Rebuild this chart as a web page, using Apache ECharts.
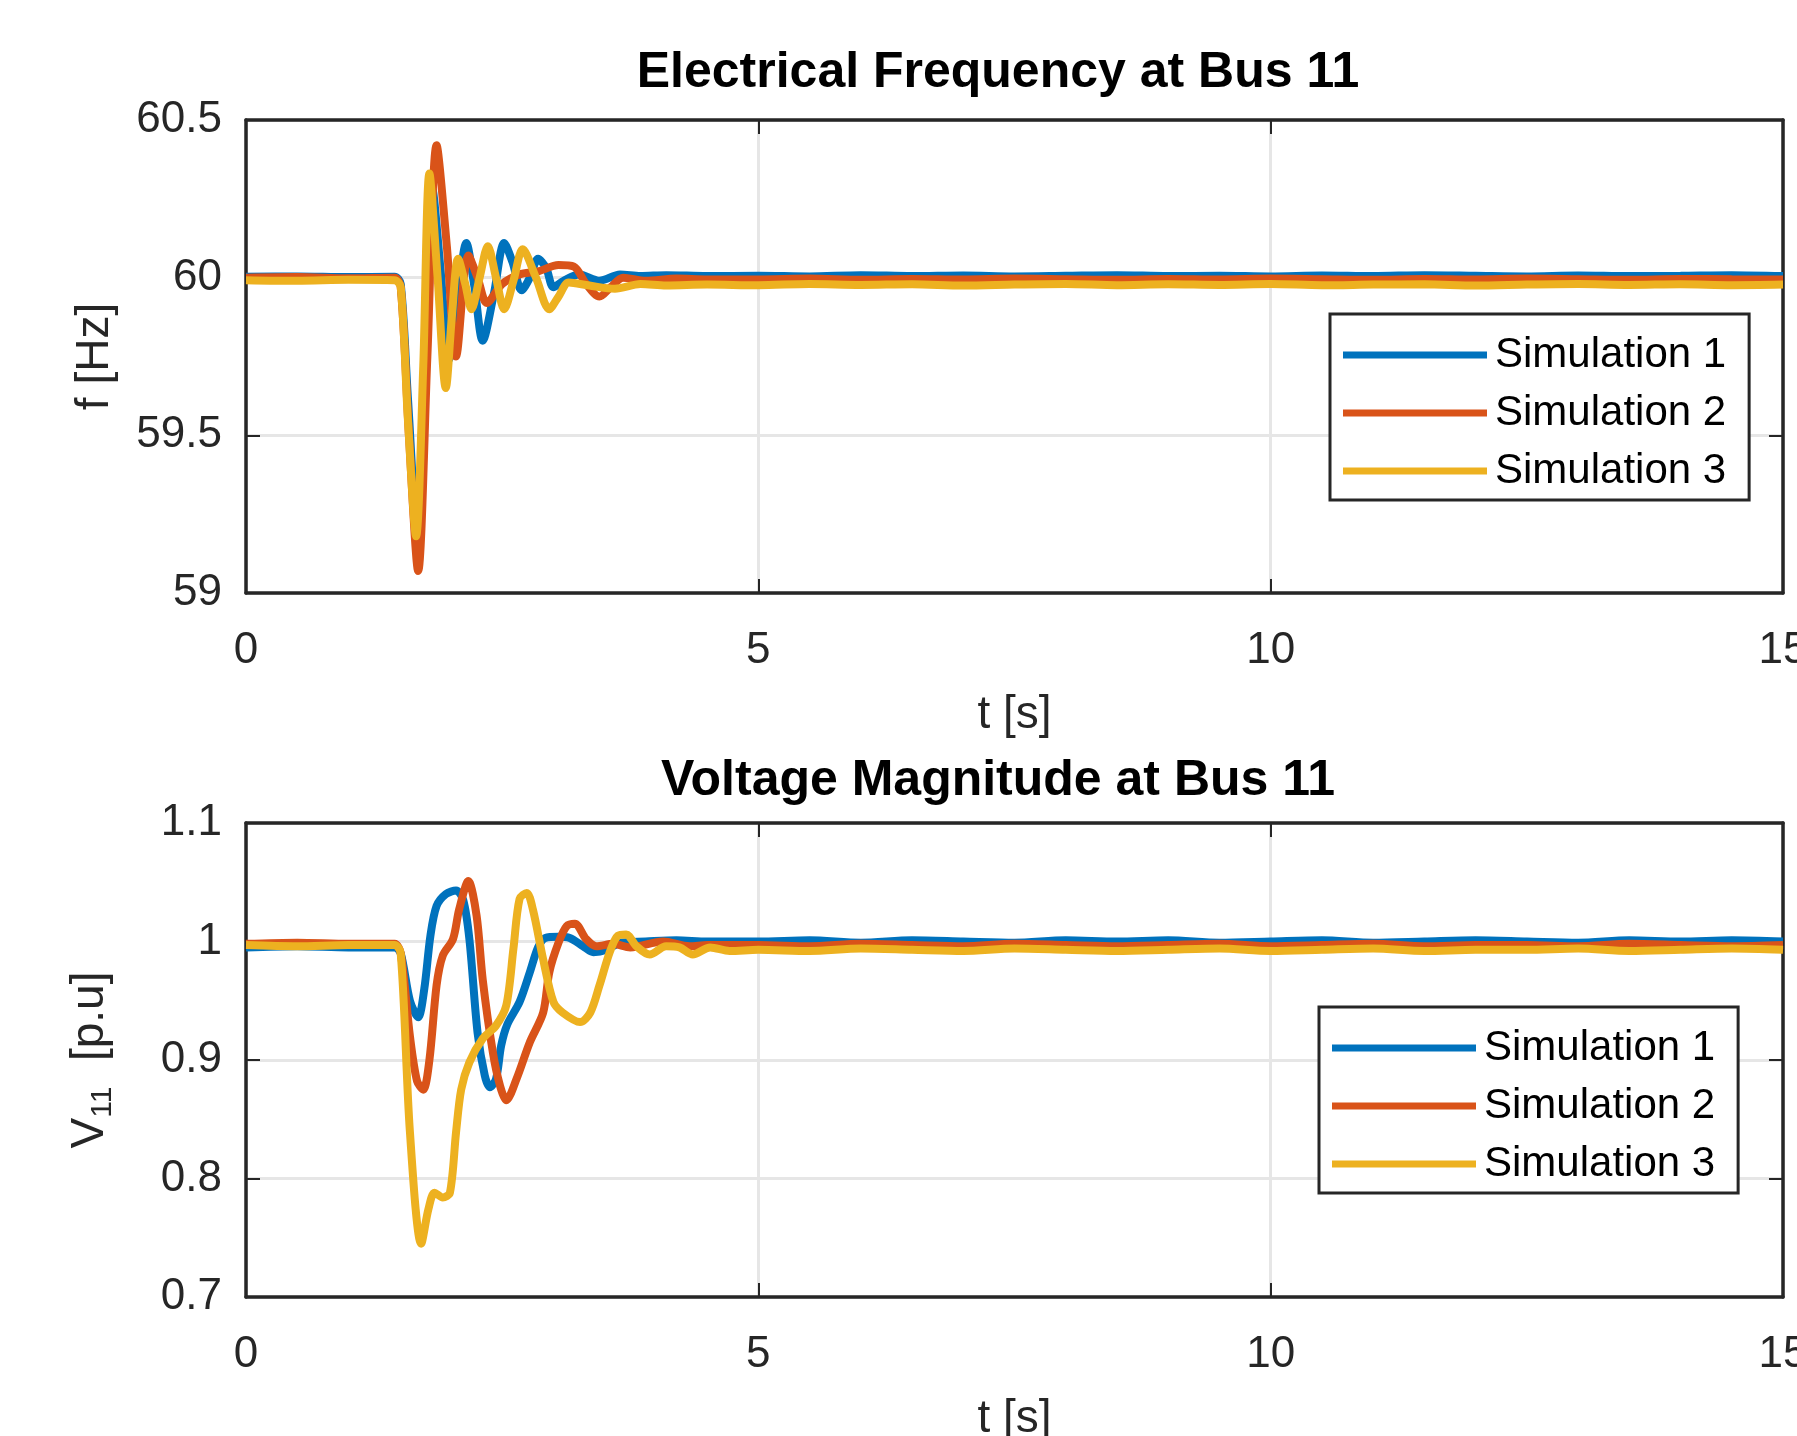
<!DOCTYPE html>
<html>
<head>
<meta charset="utf-8">
<script src="https://cdn.jsdelivr.net/npm/echarts@6/dist/echarts.min.js"></script>
<style>
  html, body { margin: 0; padding: 0; background: #fff; overflow: hidden; }
  #chart { width: 1797px; height: 1436px; }
</style>
</head>
<body>
<div id="chart"></div>
<script>
  // frequency, transient part (time [s], f [Hz])
  var timeF1 = [0, 0.5, 1.0, 1.45, 1.51, 1.58, 1.67, 1.75, 1.82, 1.9, 1.98, 2.07, 2.15, 2.23, 2.31, 2.42, 2.52, 2.6, 2.69, 2.77, 2.85, 2.93, 3.0, 3.1, 3.25, 3.45, 3.65, 3.85, 4.1, 4.5];
  var freqSim1 = [60.003, 60.004, 60.002, 60.003, 59.98, 59.62, 59.2, 59.72, 60.28, 60.02, 59.74, 59.95, 60.11, 59.97, 59.8, 59.95, 60.11, 60.05, 59.96, 60.0, 60.06, 60.03, 59.97, 59.99, 60.01, 59.99, 60.01, 60.005, 60.008, 60.005];
  var timeF2 = [0, 0.5, 1.0, 1.45, 1.51, 1.59, 1.68, 1.77, 1.86, 1.96, 2.05, 2.17, 2.26, 2.35, 2.5, 2.67, 2.85, 3.05, 3.2, 3.32, 3.45, 3.56, 3.68, 3.9, 4.2, 4.5];
  var freqSim2 = [60.0, 60.002, 59.998, 60.0, 59.97, 59.5, 59.07, 59.75, 60.42, 60.1, 59.75, 60.07, 60.0, 59.92, 59.98, 60.01, 60.02, 60.04, 60.035, 59.98, 59.94, 59.97, 60.0, 59.99, 59.997, 59.994];
  var timeF3 = [0, 0.5, 1.0, 1.45, 1.51, 1.58, 1.66, 1.73, 1.79, 1.87, 1.95, 2.01, 2.07, 2.14, 2.2, 2.28, 2.36, 2.44, 2.52, 2.61, 2.7, 2.83, 2.96, 3.05, 3.15, 3.35, 3.6, 3.85, 4.1, 4.5];
  var freqSim3 = [59.992, 59.99, 59.993, 59.992, 59.97, 59.55, 59.18, 59.72, 60.33, 60.0, 59.65, 59.88, 60.06, 59.98, 59.9, 60.0, 60.1, 60.0, 59.9, 59.99, 60.09, 60.0, 59.9, 59.94, 59.985, 59.975, 59.965, 59.98, 59.975, 59.978];

  // voltage, transient part (time [s], V [p.u])
  var timeV1 = [0, 0.5, 1.0, 1.45, 1.51, 1.6, 1.68, 1.74, 1.8, 1.86, 1.95, 2.05, 2.12, 2.18, 2.26, 2.33, 2.38, 2.44, 2.49, 2.55, 2.67, 2.77, 2.85, 2.92, 3.05, 3.16, 3.29, 3.39, 3.52, 3.65, 3.9, 4.2, 4.5];
  var voltSim1 = [0.995, 0.996, 0.995, 0.995, 0.99, 0.95, 0.936, 0.96, 1.005, 1.03, 1.04, 1.043, 1.035, 1.002, 0.923, 0.887, 0.877, 0.884, 0.912, 0.93, 0.949, 0.974, 0.995, 1.003, 1.004, 1.003, 0.996, 0.991, 0.993, 0.999, 1.0, 1.001, 1.0];
  var timeV2 = [0, 0.5, 1.0, 1.45, 1.51, 1.6, 1.67, 1.73, 1.79, 1.86, 1.92, 2.02, 2.08, 2.17, 2.25, 2.31, 2.41, 2.48, 2.54, 2.64, 2.77, 2.9, 2.96, 3.05, 3.13, 3.21, 3.32, 3.42, 3.58, 3.75, 4.07, 4.33, 4.5];
  var voltSim2 = [0.998, 0.999, 0.998, 0.998, 0.99, 0.92, 0.882, 0.875, 0.9, 0.963, 0.988, 1.002, 1.027, 1.051, 1.022, 0.968, 0.906, 0.878, 0.866, 0.884, 0.915, 0.94, 0.974, 0.999, 1.013, 1.015, 1.002, 0.996, 0.998, 0.995, 1.0, 0.996, 0.997];
  var timeV3 = [0, 0.5, 1.0, 1.45, 1.51, 1.6, 1.71, 1.78, 1.84, 1.92, 1.99, 2.05, 2.1, 2.18, 2.31, 2.44, 2.54, 2.61, 2.67, 2.74, 2.8, 2.9, 3.0, 3.09, 3.26, 3.36, 3.45, 3.55, 3.63, 3.71, 3.81, 3.94, 4.1, 4.23, 4.36, 4.53, 4.72];
  var voltSim3 = [0.997, 0.996, 0.997, 0.997, 0.99, 0.839, 0.745, 0.774, 0.788, 0.784, 0.788, 0.839, 0.875, 0.898, 0.918, 0.929, 0.946, 0.994, 1.036, 1.041, 1.027, 0.985, 0.949, 0.94, 0.932, 0.94, 0.963, 0.991, 1.005, 1.006, 0.996, 0.989, 0.996, 0.995, 0.989, 0.995, 0.992];

  // steady state after the fault (shared time base)
  var tSteady = [5, 5.5, 6, 6.5, 7, 7.5, 8, 8.5, 9, 9.5, 10, 10.5, 11, 11.5, 12, 12.5, 13, 13.5, 14, 14.5, 15];
  var freqSteady1 = [60.006, 60.004, 60.008, 60.005, 60.007, 60.004, 60.006, 60.008, 60.005, 60.006, 60.004, 60.007, 60.005, 60.008, 60.006, 60.004, 60.007, 60.005, 60.006, 60.008, 60.005];
  var freqSteady2 = [59.994, 59.997, 59.993, 59.996, 59.994, 59.997, 59.995, 59.993, 59.996, 59.994, 59.997, 59.995, 59.993, 59.996, 59.994, 59.997, 59.995, 59.993, 59.996, 59.995, 59.994];
  var freqSteady3 = [59.976, 59.98, 59.977, 59.979, 59.975, 59.978, 59.98, 59.976, 59.979, 59.977, 59.98, 59.976, 59.978, 59.979, 59.975, 59.978, 59.98, 59.977, 59.979, 59.976, 59.978];
  var voltSteady1 = [1.0, 1.001, 0.999, 1.001, 1.0, 0.999, 1.001, 1.0, 1.001, 0.999, 1.0, 1.001, 0.999, 1.0, 1.001, 1.0, 0.999, 1.001, 1.0, 1.001, 1.0];
  var voltSteady2 = [0.997, 0.996, 0.998, 0.997, 0.996, 0.998, 0.997, 0.996, 0.997, 0.998, 0.996, 0.997, 0.998, 0.996, 0.997, 0.997, 0.996, 0.998, 0.997, 0.996, 0.997];
  var voltSteady3 = [0.993, 0.992, 0.994, 0.993, 0.992, 0.994, 0.993, 0.992, 0.993, 0.994, 0.992, 0.993, 0.994, 0.992, 0.993, 0.993, 0.994, 0.992, 0.993, 0.994, 0.993];

  var simNames = ['Simulation 1', 'Simulation 2', 'Simulation 3'];
  var colors = ['#0072BD', '#D95319', '#EDB120'];
  var xTicks = [0, 5, 10, 15];
  var freqTicks = [59, 59.5, 60, 60.5];
  var voltTicks = [0.7, 0.8, 0.9, 1, 1.1];

  var FONT = '"Liberation Sans", Arial, sans-serif';
  var INK = '#262626';

  function pairs(t, v, ts, vs) {
    var tt = t.concat(ts), vv = v.concat(vs);
    return tt.map(function (x, i) { return [x, vv[i]]; });
  }

  function fmt(v) { return String(+v.toFixed(2)); }

  function xAx(grid, top) {
    return {
      type: 'value', gridIndex: grid, position: top ? 'top' : 'bottom',
      min: xTicks[0], max: xTicks[xTicks.length - 1], interval: xTicks[1] - xTicks[0],
      axisLine: { show: true, onZero: false, lineStyle: { color: INK, width: 3.5 } },
      axisTick: { show: true, inside: true, length: 14, lineStyle: { color: INK, width: 2 } },
      axisLabel: { show: !top, margin: 36, fontSize: 44, color: INK, fontFamily: FONT,
        showMinLabel: true, showMaxLabel: true, formatter: fmt },
      splitLine: { show: !top, lineStyle: { color: '#e6e6e6', width: 3 } },
      name: top ? '' : 't [s]', nameLocation: 'middle', nameGap: 99,
      nameTextStyle: { fontSize: 46, color: INK, fontFamily: FONT }
    };
  }

  function yAx(grid, ticks, right, name, rich) {
    return {
      type: 'value', gridIndex: grid, position: right ? 'right' : 'left',
      min: ticks[0], max: ticks[ticks.length - 1], interval: ticks[1] - ticks[0],
      axisLine: { show: true, onZero: false, lineStyle: { color: INK, width: 3.5 } },
      axisTick: { show: true, inside: true, length: 14, lineStyle: { color: INK, width: 2 } },
      axisLabel: { show: !right, margin: 24, fontSize: 44, color: INK, fontFamily: FONT,
        showMinLabel: true, showMaxLabel: true, formatter: fmt },
      splitLine: { show: !right, lineStyle: { color: '#e6e6e6', width: 3 } },
      name: right ? '' : name, nameLocation: 'middle', nameGap: 128, nameRotate: 90,
      nameTextStyle: { fontSize: 46, color: INK, fontFamily: FONT, rich: rich }
    };
  }

  function line(i, grid, data) {
    return {
      name: simNames[i], type: 'line', xAxisIndex: grid * 2, yAxisIndex: grid * 2,
      data: data, showSymbol: false, symbol: 'none', smooth: 0.3,
      lineStyle: { color: colors[i], width: 8 }, itemStyle: { color: colors[i] },
      z: 2 + i
    };
  }

  function legend(left, top) {
    return {
      orient: 'vertical', left: left, top: top, icon: 'rect',
      itemWidth: 144, itemHeight: 7, itemGap: 16,
      padding: [20, 23, 8, 13],
      borderColor: INK, borderWidth: 3, backgroundColor: '#fff',
      textStyle: { fontSize: 42, lineHeight: 42, color: '#000', fontFamily: FONT,
        padding: [0, 0, 0, 3] },
      data: simNames, selectedMode: false
    };
  }

  var voltRich = {
    v: { fontSize: 46, lineHeight: 56, color: INK, fontFamily: FONT },
    s: { fontSize: 30, lineHeight: 30, verticalAlign: 'bottom', color: INK, fontFamily: FONT },
    n: { fontSize: 46, lineHeight: 56, color: INK, fontFamily: FONT }
  };

  function titleText(text, y) {
    return { type: 'text', x: 998, y: y, style: {
      text: text, fontSize: 50, fontWeight: 'bold', fontFamily: FONT, fill: '#000',
      align: 'center', verticalAlign: 'middle' } };
  }

  var chart = echarts.init(document.getElementById('chart'), null, { renderer: 'canvas' });
  var option = {
    animation: false,
    backgroundColor: '#fff',
    grid: [
      { left: 246, top: 120, width: 1537, height: 473, outerBoundsMode: 'none', containLabel: false },
      { left: 246, top: 823, width: 1537, height: 474, outerBoundsMode: 'none', containLabel: false }
    ],
    xAxis: [xAx(0, false), xAx(0, true), xAx(1, false), xAx(1, true)],
    yAxis: [
      yAx(0, freqTicks, false, 'f [Hz]'),
      yAx(0, freqTicks, true, ''),
      yAx(1, voltTicks, false, '{v|V}{s|11}{n|  [p.u]}', voltRich),
      yAx(1, voltTicks, true, '')
    ],
    legend: [legend(1330, 314), legend(1319, 1007)],
    graphic: [
      titleText('Electrical Frequency at Bus 11', 73),
      titleText('Voltage Magnitude at Bus 11', 781)
    ],
    series: [
      line(0, 0, pairs(timeF1, freqSim1, tSteady, freqSteady1)),
      line(1, 0, pairs(timeF2, freqSim2, tSteady, freqSteady2)),
      line(2, 0, pairs(timeF3, freqSim3, tSteady, freqSteady3)),
      line(0, 1, pairs(timeV1, voltSim1, tSteady, voltSteady1)),
      line(1, 1, pairs(timeV2, voltSim2, tSteady, voltSteady2)),
      line(2, 1, pairs(timeV3, voltSim3, tSteady, voltSteady3))
    ]
  };
  chart.setOption(option);
</script>
</body>
</html>
